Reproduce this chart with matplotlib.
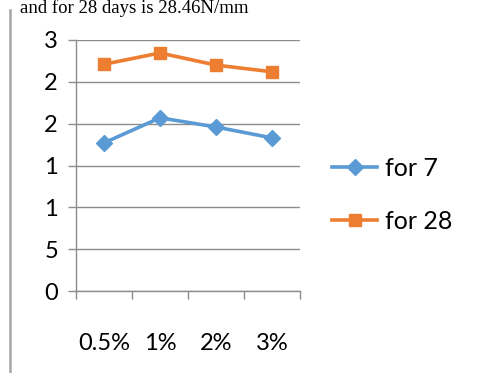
import matplotlib.pyplot as plt
from matplotlib.lines import Line2D

categories = ['0.5%', '1%', '2%', '3%']
for_7 = [17.7, 20.7, 19.6, 18.3]
for_28 = [27.1, 28.45, 27.0, 26.2]
y_ticks = [0, 5, 10, 15, 20, 25, 30]
y_tick_labels = ['0', '5', '1', '1', '2', '2', '3']

blue = '#5B9BD5'
orange = '#ED7D31'
grid_col = '#8C8C8C'

plt.rcParams['font.family'] = ['Lato', 'DejaVu Sans']

fig = plt.figure(figsize=(4.99, 3.73), dpi=100)
ax = fig.add_axes([76 / 499, 1 - 291 / 373, 224 / 499, 251 / 373])

xs = [i + 0.5 for i in range(len(categories))]
ax.plot(xs, for_7, color=blue, lw=2.6, marker='D', ms=8, label='for 7')
ax.plot(xs, for_28, color=orange, lw=2.6, marker='s', ms=9, label='for 28')

ax.set_xlim(0, len(categories))
ax.set_ylim(0, 30)
ax.set_yticks(y_ticks)
ax.set_yticklabels(y_tick_labels, fontsize=17)
ax.yaxis.grid(True, color=grid_col, lw=1)
ax.set_axisbelow(True)

ax.set_xticks(range(len(categories) + 1))
ax.set_xticklabels([])
ax.set_xticks(xs, minor=True)
ax.set_xticklabels(categories, minor=True, fontsize=17)
ax.tick_params(axis='x', which='minor', length=0, pad=30)
ax.tick_params(axis='x', which='major', length=6, color=grid_col, width=1)
ax.tick_params(axis='y', length=6, color=grid_col, width=1, pad=7)

for s in ['top', 'right']:
    ax.spines[s].set_visible(False)
for s in ['left', 'bottom']:
    ax.spines[s].set_color(grid_col)
    ax.spines[s].set_linewidth(1)

handles = [Line2D([], [], color=blue, lw=2.6, marker='D', ms=8),
           Line2D([], [], color=orange, lw=2.6, marker='s', ms=9)]
fig.legend(handles, ['for 7', 'for 28'], loc='center left',
           bbox_to_anchor=(332 / 499, 1 - 195 / 373), frameon=False,
           fontsize=18, handlelength=1.8, handletextpad=0.32, labelspacing=1.2,
           borderpad=0, borderaxespad=0)

# caption line from the page above the chart
fig.text(20 / 499, 1 - 13 / 373, 'and for 28 days is 28.46N/mm',
         family=['Liberation Serif', 'DejaVu Serif'], fontsize=13.5, va='baseline')

# grey page edge line on the left
fig.add_artist(Line2D([10 / 499, 10 / 499], [0, 1 - 10 / 373],
                      color='#A6A6A6', lw=1.8))

fig.savefig('out.png', dpi=100)
